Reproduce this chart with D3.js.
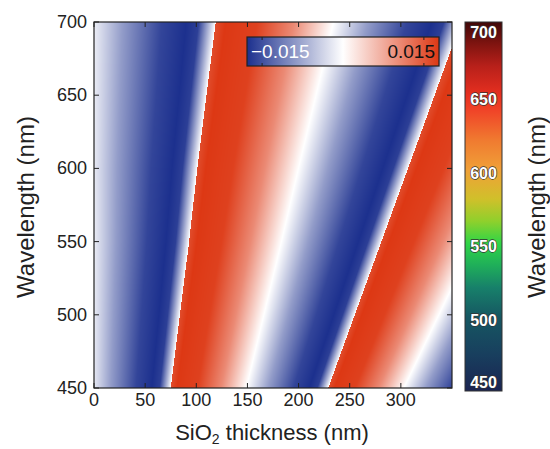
<!DOCTYPE html>
<html><head><meta charset="utf-8">
<script src="https://cdn.jsdelivr.net/npm/d3@7"></script>
<style>
body{margin:0;background:#fff;}
svg{position:absolute;left:0;top:0;font-family:"Liberation Sans",Arial,sans-serif;}
</style>
</head><body>
<svg id="chart" width="550" height="449"></svg>
<script>
// ---- data ----
// rows of the map (wavelength, nm) and the positions (SiO2 thickness, nm) of the two sharp jumps
const wavelengths = [450, 500, 550, 600, 650, 700];
const jump1 = [75, 84, 93, 101, 110, 119];
const jump2 = [229, 255, 281, 307, 333, 359];
// value profile across one fringe period, phase measured from the jump
const profilePhase = [0, 0.04, 0.17, 0.32, 0.48, 0.62, 0.78, 0.88, 0.93, 1];
const profileValue = [0.0160, 0.0178, 0.0170, 0.0105, 0, -0.0085, -0.0160, -0.0178, -0.0165, 0];
const xTicks = [0, 50, 100, 150, 200, 250, 300];
const yTicks = [450, 500, 550, 600, 650, 700];
const legendTicks = [-0.015, 0.015];
const legendLabels = ["\u22120.015", "0.015"];
const cbWavelengths = [450, 475, 500, 520, 535, 550, 565, 580, 600, 620, 640, 650, 670, 685, 700];
const cbColors = ["#1b2452", "#183f5e", "#165762", "#17806a", "#1fae5a", "#2fd546", "#8fd02c", "#d0c02a",
                  "#f0a038", "#f07a30", "#f04428", "#e83020", "#b8201a", "#801410", "#400808"];
const cbTicks = [450, 500, 550, 600, 650, 700];

// ---- layout ----
const svg = d3.select("#chart");
const L = 94, R = 452, T = 22, B = 388;
const x = d3.scaleLinear().domain([0, 350]).range([L, R]);
const y = d3.scaleLinear().domain([450, 700]).range([B, T]);
const vmax = 0.0178;
const color = d3.scaleLinear().domain([-vmax, 0, vmax])
  .range(["rgb(28,48,142)", "#ffffff", "rgb(221,56,20)"]).clamp(true);

// interpolators for jump positions vs wavelength
const j1 = d3.scaleLinear().domain(wavelengths).range(jump1);
const j2 = d3.scaleLinear().domain(wavelengths).range(jump2);
const prof = d3.scaleLinear().domain(profilePhase).range(profileValue);

// ---- heatmap on canvas ----
const W = R - L, H = B - T;
const cv = document.createElement("canvas");
cv.width = W; cv.height = H;
const ctx = cv.getContext("2d");
const img = ctx.createImageData(W, H);
for (let py = 0; py < H; py++) {
  const lam = y.invert(T + py + 0.5);
  const a = j1(lam), b = j2(lam), P = b - a;
  for (let px = 0; px < W; px++) {
    const t = x.invert(L + px + 0.5);
    let ph = (t - a) / P;
    ph = ph - Math.floor(ph);
    const c = d3.rgb(color(prof(ph)));
    const k = (py * W + px) * 4;
    img.data[k] = c.r; img.data[k + 1] = c.g; img.data[k + 2] = c.b; img.data[k + 3] = 255;
  }
}
ctx.putImageData(img, 0, 0);
svg.append("image").attr("x", L).attr("y", T).attr("width", W).attr("height", H)
  .attr("href", cv.toDataURL());

// ---- axes (inward ticks on all sides) ----
const tickLen = 5;
const g = svg.append("g").attr("stroke", "#222").attr("stroke-width", 1);
xTicks.forEach(v => {
  g.append("line").attr("x1", x(v)).attr("x2", x(v)).attr("y1", B).attr("y2", B - tickLen);
  g.append("line").attr("x1", x(v)).attr("x2", x(v)).attr("y1", T).attr("y2", T + tickLen);
});
yTicks.forEach(v => {
  g.append("line").attr("x1", L).attr("x2", L + tickLen).attr("y1", y(v)).attr("y2", y(v));
  g.append("line").attr("x1", R).attr("x2", R - tickLen).attr("y1", y(v)).attr("y2", y(v));
});
svg.append("rect").attr("x", L).attr("y", T).attr("width", W).attr("height", H)
  .attr("fill", "none").attr("stroke", "#222").attr("stroke-width", 1.2);

svg.append("g").selectAll("text").data(xTicks).join("text")
  .attr("x", d => x(d)).attr("y", B + 18).attr("text-anchor", "middle")
  .attr("font-size", 18).attr("fill", "#222").text(d => d);
svg.append("g").selectAll("text").data(yTicks).join("text")
  .attr("x", L - 7).attr("y", d => y(d) + 6).attr("text-anchor", "end")
  .attr("font-size", 18).attr("fill", "#222").text(d => d);

// axis titles
const xt = svg.append("text").attr("x", 272).attr("y", 440).attr("text-anchor", "middle")
  .attr("font-size", 22).attr("fill", "#222");
xt.append("tspan").text("SiO");
xt.append("tspan").attr("font-size", 14).attr("dy", 4).text("2");
xt.append("tspan").attr("dy", -4).text(" thickness (nm)");

svg.append("text").attr("transform", "translate(34,207) rotate(-90)").attr("text-anchor", "middle")
  .attr("font-size", 24).attr("fill", "#222").text("Wavelength (nm)");
svg.append("text").attr("transform", "translate(545,207) rotate(-90)").attr("text-anchor", "middle")
  .attr("font-size", 24).attr("fill", "#222").text("Wavelength (nm)");

// ---- inset legend (value colour bar) ----
const lx = d3.scaleLinear().domain([-vmax, vmax]).range([247, 439]);
const defs = svg.append("defs");
const lg = defs.append("linearGradient").attr("id", "lg").attr("gradientUnits", "userSpaceOnUse")
  .attr("x1", lx(-vmax)).attr("x2", lx(vmax)).attr("y1", 0).attr("y2", 0);
[-vmax, 0, vmax].forEach(v => lg.append("stop")
  .attr("offset", (v + vmax) / (2 * vmax)).attr("stop-color", color(v)));
const ly0 = 37, ly1 = 66;
svg.append("rect").attr("x", lx(-vmax)).attr("y", ly0).attr("width", lx(vmax) - lx(-vmax))
  .attr("height", ly1 - ly0).attr("fill", "url(#lg)").attr("stroke", "#222").attr("stroke-width", 1.2);
legendTicks.forEach(v => {
  svg.append("line").attr("x1", lx(v)).attr("x2", lx(v)).attr("y1", ly1).attr("y2", ly1 - 3).attr("stroke", "#222");
  svg.append("line").attr("x1", lx(v)).attr("x2", lx(v)).attr("y1", ly0).attr("y2", ly0 + 3).attr("stroke", "#222");
});
svg.append("text").attr("x", 251).attr("y", 58).attr("font-size", 19).attr("fill", "#fff").text(legendLabels[0]);
svg.append("text").attr("x", 435).attr("y", 58).attr("font-size", 19).attr("fill", "#111")
  .attr("text-anchor", "end").text(legendLabels[1]);

// ---- wavelength colour bar ----
const cy = d3.scaleLinear().domain([450, 700]).range([B + 3, T]);
const cg = defs.append("linearGradient").attr("id", "cg").attr("gradientUnits", "userSpaceOnUse")
  .attr("x1", 0).attr("x2", 0).attr("y1", cy(450)).attr("y2", cy(700));
cbWavelengths.forEach((w, i) => cg.append("stop")
  .attr("offset", (w - 450) / 250).attr("stop-color", cbColors[i]));
svg.append("rect").attr("x", 465).attr("y", cy(700)).attr("width", 37).attr("height", cy(450) - cy(700))
  .attr("fill", "url(#cg)").attr("stroke", "#333").attr("stroke-width", 1);
svg.append("g").selectAll("text").data(cbTicks).join("text")
  .attr("x", 483.5)
  .attr("y", d => d === 700 ? cy(d) + 16 : d === 450 ? cy(d) - 3 : cy(d) + 9)
  .attr("text-anchor", "middle").attr("font-size", 16).attr("font-weight", "bold")
  .attr("fill", "#fff").attr("stroke", "#333").attr("stroke-width", 1.3)
  .attr("paint-order", "stroke").text(d => d);
</script>
</body></html>
